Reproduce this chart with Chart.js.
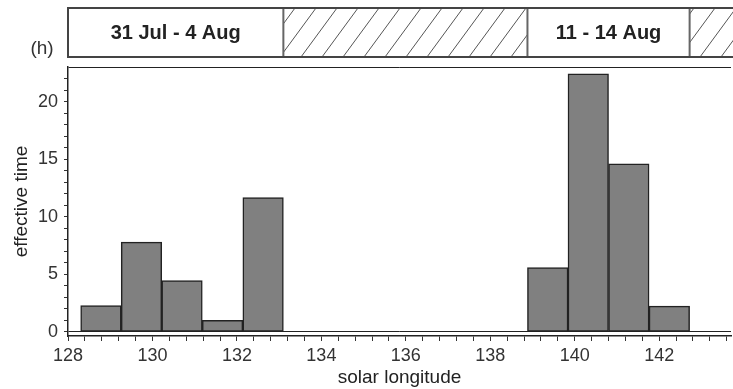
<!DOCTYPE html>
<html>
<head>
<meta charset="utf-8">
<script src="https://cdn.jsdelivr.net/npm/chart.js@4/dist/chart.umd.min.js"></script>
<style>
  html, body { margin: 0; padding: 0; background: #fff; }
  #wrap { width: 733px; height: 389px; position: relative; }
</style>
</head>
<body>
<div id="wrap"><canvas id="histChart"></canvas></div>
<script>
// bins are 0.96 deg of solar longitude wide, given by their centres
var binCenters = [128.78, 129.74, 130.70, 131.66, 132.62, 139.36, 140.32, 141.28, 142.24];
var effectiveTime = [2.28, 7.8, 4.45, 1.0, 11.67, 5.58, 22.4, 14.6, 2.25];

// observation periods shown in the band above the plot
var periodLabels = ['31 Jul - 4 Aug', '11 - 14 Aug'];
var periodStart = [128, 138.88];
var periodEnd = [133.1, 142.72];

var xMin = 128, xMax = 143.7, xMinorStep = 0.4, xMajorStep = 2;
var yMin = -0.35, yMax = 23, yMinorStep = 1, yMajorStep = 5;

Chart.defaults.font.family = "'Liberation Sans', Arial, sans-serif";

var periodBand = {
  id: 'periodBand',
  afterDraw: function (chart) {
    var ctx = chart.ctx;
    var x = chart.scales.x;
    var top = 8, bottom = 57;
    var left = x.getPixelForValue(xMin), right = chart.width;

    ctx.save();
    // hatched background
    ctx.beginPath();
    ctx.rect(left, top, right - left, bottom - top);
    ctx.clip();
    ctx.beginPath();
    ctx.strokeStyle = '#555';
    ctx.lineWidth = 1;
    for (var hx = left - 40; hx < right + 40; hx += 21) {
      ctx.moveTo(hx, bottom);
      ctx.lineTo(hx + 36, top);
    }
    ctx.stroke();

    // white boxes for the periods
    ctx.font = "bold 20px 'Liberation Sans', Arial, sans-serif";
    ctx.textAlign = 'center';
    ctx.textBaseline = 'middle';
    for (var i = 0; i < periodLabels.length; i++) {
      var a = x.getPixelForValue(periodStart[i]);
      var b = x.getPixelForValue(periodEnd[i]);
      ctx.fillStyle = '#fff';
      ctx.fillRect(a, top, b - a, bottom - top);
      ctx.strokeStyle = '#666';
      ctx.lineWidth = 2;
      ctx.strokeRect(a, top, b - a, bottom - top);
      ctx.fillStyle = '#222';
      ctx.fillText(periodLabels[i], (a + b) / 2, (top + bottom) / 2 + 1);
    }
    ctx.restore();

    // outer frame
    ctx.save();
    ctx.strokeStyle = '#444';
    ctx.lineWidth = 2;
    ctx.beginPath();
    ctx.moveTo(right, top); ctx.lineTo(left, top); ctx.lineTo(left, bottom); ctx.lineTo(right, bottom);
    ctx.stroke();

    ctx.fillStyle = '#333';
    ctx.font = "19px 'Liberation Sans', Arial, sans-serif";
    ctx.textAlign = 'center';
    ctx.textBaseline = 'middle';
    ctx.fillText('(h)', 42, 49);
    ctx.restore();
  }
};

var ctx = document.getElementById('histChart').getContext('2d');

var histChart = new Chart(ctx, {
  type: 'bar',
  data: {
    datasets: [{
      label: 'effective time',
      data: binCenters.map(function (c, i) { return { x: c, y: effectiveTime[i] }; }),
      xAxisID: 'xb',
      backgroundColor: '#808080',
      borderColor: '#222',
      borderWidth: 1.5,
      borderSkipped: false,
      barPercentage: 1,
      categoryPercentage: 1
    }]
  },
  options: {
    responsive: true,
    maintainAspectRatio: false,
    animation: false,
    layout: { padding: { top: 67, right: 2, bottom: 0, left: 0 } },
    plugins: {
      legend: { display: false },
      tooltip: { enabled: false }
    },
    scales: {
      x: {
        type: 'linear',
        position: 'bottom',
        offset: false,
        min: xMin,
        max: xMax,
        afterBuildTicks: function (scale) {
          var ticks = [];
          for (var k = 0; xMin + k * xMinorStep <= xMax + 1e-9; k++) {
            ticks.push({ value: Math.round((xMin + k * xMinorStep) * 10) / 10 });
          }
          scale.ticks = ticks;
        },
        afterFit: function (scale) { scale.height = 53; },
        ticks: {
          autoSkip: false,
          maxRotation: 0,
          padding: 4,
          color: '#333',
          font: { size: 18 },
          callback: function (value) { return value % xMajorStep === 0 ? value : ''; }
        },
        grid: { offset: false, drawOnChartArea: false, tickLength: 5, color: '#333', lineWidth: 1 },
        border: { display: true, color: '#222', width: 1.5 },
        title: {
          display: true,
          text: 'solar longitude',
          color: '#222',
          font: { size: 19 },
          padding: { top: 0, bottom: 0 }
        }
      },
      xb: {
        type: 'linear',
        position: 'bottom',
        display: false,
        offset: false,
        grid: { offset: false },
        min: xMin,
        max: xMax,
        ticks: { stepSize: 20 }
      },
      y: {
        min: yMin,
        max: yMax,
        afterBuildTicks: function (scale) {
          var ticks = [];
          for (var v = 0; v <= yMax; v += yMinorStep) ticks.push({ value: v });
          scale.ticks = ticks;
        },
        afterFit: function (scale) { scale.width = 68; },
        ticks: {
          autoSkip: false,
          padding: 6,
          color: '#333',
          font: { size: 18 },
          callback: function (value) { return value % yMajorStep === 0 ? value : ''; }
        },
        grid: {
          tickLength: 4,
          color: function (c) { return (c.tick && (c.tick.value === 0 || c.tick.value === yMax)) ? '#222' : 'rgba(0,0,0,0)'; },
          tickColor: function (c) { return (c.tick && c.tick.value === yMax) ? 'rgba(0,0,0,0)' : '#333'; },
          lineWidth: 1
        },
        border: { display: true, color: '#222', width: 1.5 },
        title: {
          display: true,
          text: 'effective time',
          color: '#222',
          font: { size: 19 },
          padding: { top: 10, bottom: 0 }
        }
      }
    }
  },
  plugins: [periodBand]
});
</script>
</body>
</html>
